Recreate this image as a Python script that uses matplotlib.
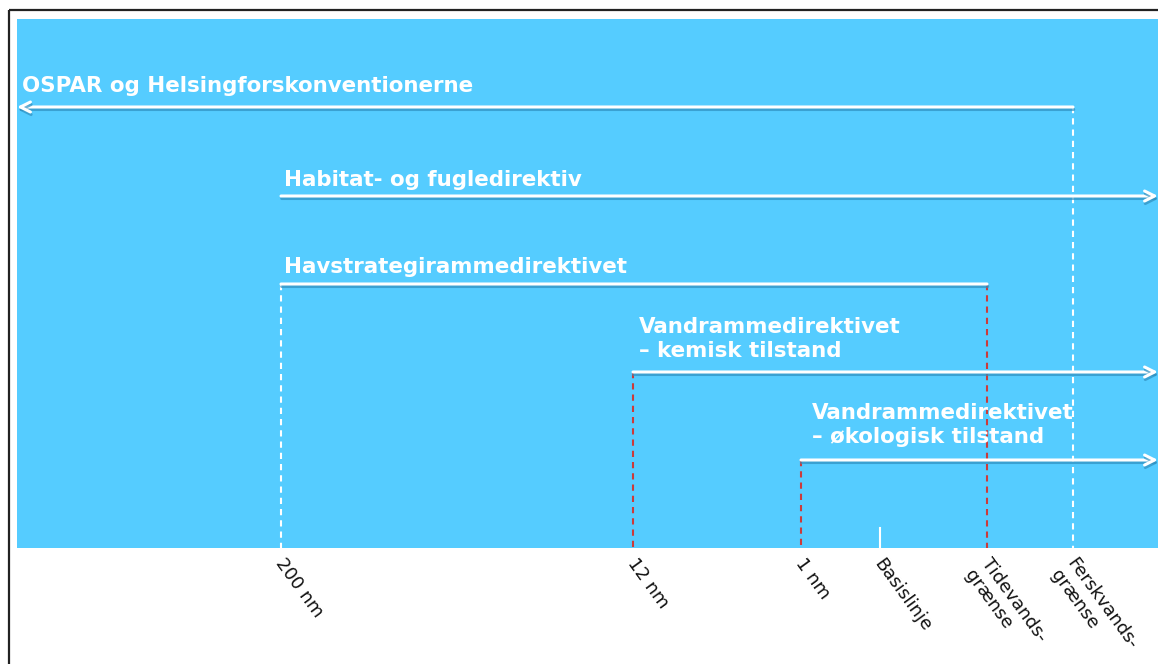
import matplotlib
matplotlib.use("Agg")
from matplotlib import pyplot as plt
from matplotlib import patheffects as pe
from matplotlib.patches import Rectangle

# boundaries along the sea-to-land axis (position in panel units)
boundary_labels = ['200 nm', '12 nm', '1 nm', 'Basislinje', 'Tidevands-\ngrænse', 'Ferskvands-\ngrænse']
boundary_pos = [281, 633, 801, 880, 987, 1073]

# directives: label, start, end, row level, label anchor (last line baseline)
directive_labels = [
    'OSPAR og Helsingforskonventionerne',
    'Habitat- og fugledirektiv',
    'Havstrategirammedirektivet',
    'Vandrammedirektivet\n\u2013 kemisk tilstand',
    'Vandrammedirektivet\n\u2013 økologisk tilstand',
]
directive_start = [1073, 281, 281, 633, 801]
directive_end = [17, 1158, 987, 1158, 1158]
directive_level = [107, 196, 284, 372, 460]
directive_arrow = [True, True, False, True, True]
label_x = [22, 284, 284, 639, 812]
label_y = [92, 186, 273, 357, 443]

# vertical marker lines: top level, colour, style (one per boundary)
marker_top = [284, 372, 460, 528, 284, 107]
marker_color = ['white', '#CC3B3B', '#CC3B3B', 'white', '#CC3B3B', 'white']
marker_dashed = [True, True, True, False, True, True]

W, H = 1158, 664
panel_left, panel_top, panel_bottom = 17, 19, 548
sea_blue = '#55CCFF'
shadow_blue = '#2F8FBF'

fig = plt.figure(figsize=(W / 100, H / 100), dpi=100)
ax = fig.add_axes([0, 0, 1, 1])
ax.set_xlim(0, W)
ax.set_ylim(H, 0)
ax.axis('off')

# outer frame (only left/top visible in the original)
ax.add_patch(Rectangle((9, 10), W + 20, H + 20, fill=False, ec='#222222', lw=1.6))
ax.add_patch(Rectangle((panel_left, panel_top), W - panel_left + 5, panel_bottom - panel_top,
                       fc=sea_blue, ec='none'))

shadow = [pe.SimpleLineShadow(offset=(0.5, -1.8), shadow_color=shadow_blue, alpha=0.7), pe.Normal()]

# vertical boundary markers
for pos, top, col, dashed in zip(boundary_pos, marker_top, marker_color, marker_dashed):
    ax.plot([pos, pos], [top, panel_bottom], color=col, lw=1.5,
            linestyle=(0, (3, 2.4)) if dashed else '-', zorder=2)

# directive arrows
for x0, x1, y, arrow in zip(directive_start, directive_end, directive_level, directive_arrow):
    ax.annotate('', xy=(x1, y), xytext=(x0, y),
                arrowprops=dict(arrowstyle='->' if arrow else '-', color='white', lw=2.2,
                                mutation_scale=18, shrinkA=0, shrinkB=0,
                                path_effects=shadow),
                zorder=3)

# directive labels
for text, x, y in zip(directive_labels, label_x, label_y):
    ax.text(x, y, text, color='white', fontsize=15.4, fontweight='bold',
            family='DejaVu Sans', ha='left', va='baseline', linespacing=1.25, zorder=4)

# rotated boundary labels
for text, pos in zip(boundary_labels, boundary_pos):
    ax.text(pos + 5, panel_bottom + 7, text, color='#111111', fontsize=13,
            rotation=-54, rotation_mode='anchor', ha='left', va='top',
            linespacing=1.15)

fig.savefig('out.png', dpi=100, facecolor='white')
